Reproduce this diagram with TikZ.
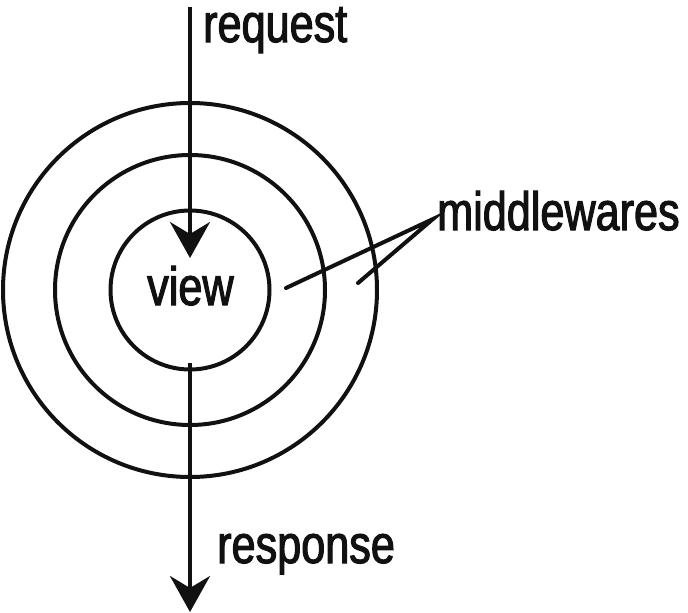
\documentclass[tikz,border=0pt]{standalone}
\usepackage{fontspec}
\setmainfont{Liberation Sans}[FakeStretch=0.8,FakeBold=2]
\usetikzlibrary{arrows.meta}
\definecolor{ink}{HTML}{111111}
\begin{document}
\begin{tikzpicture}[x=1pt,y=-1pt,
  ring/.style={circle,draw=ink,line width=4pt,inner sep=0pt,minimum size=#1},
  lbl/.style={anchor=base west,inner sep=0pt,text=ink,font=\fontsize{54}{60}\selectfont},
  flow/.style={draw=ink,line width=4pt,-{Stealth[length=36pt,width=40pt,inset=12pt]}},
  pointer/.style={draw=ink,line width=4pt,line cap=round}]
\useasboundingbox (0,0) rectangle (688,613);
\node[ring=159pt] (inner) at (190,290) {};
\node[ring=270pt] (mid) at (190,290) {};
\node[ring=374pt] (outer) at (190,290) {};
\node[lbl] (view) at (147,305) {view};
\node[lbl] (req) at (203,42) {request};
\node[lbl] (resp) at (217,563) {response};
\node[lbl] (mw) at (437,230) {middlewares};
\coordinate (reqA) at (190,7);
\coordinate (reqB) at (190,258);
\coordinate (respA) at (190,363);
\coordinate (respB) at (190,612);
\coordinate (apex) at (433,219);
\coordinate (p1) at (286,288);
\coordinate (p2) at (358,283);
\draw[flow] (reqA) -- (reqB);
\draw[flow] (respA) -- (respB);
\draw[pointer] (p1) -- (apex) -- (p2);
\end{tikzpicture}
\end{document}
